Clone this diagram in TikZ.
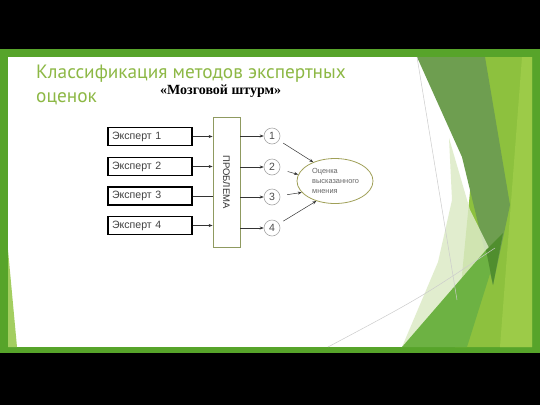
\documentclass[tikz,border=0pt]{standalone}
\usepackage{fontspec}
\setmainfont{Liberation Sans}
\newfontfamily\titlefont{PT Sans}
\newfontfamily\serifru{Liberation Serif}
\usetikzlibrary{arrows.meta,shapes.geometric}
\definecolor{framegreen}{HTML}{57A42A}
\definecolor{yelgreen}{HTML}{8DC13E}
\definecolor{yelgreenl}{HTML}{9CCB48}
\definecolor{mutedgreen}{HTML}{6E9E50}
\definecolor{midgreen}{HTML}{6DB243}
\definecolor{palegreen}{HTML}{DCEBC6}
\definecolor{deepgreen}{HTML}{508E2E}
\definecolor{slivergreen}{HTML}{A3CE60}
\definecolor{titlegreen}{HTML}{8DB845}
\definecolor{olivebord}{HTML}{8F9A60}
\definecolor{ellbord}{HTML}{A0A058}
\begin{document}
\begin{tikzpicture}[x=1pt,y=-1pt,
  expbox/.style={draw=black,line width=1.4pt,minimum width=84pt,minimum height=18pt,inner sep=0pt,
    font=\fontsize{10.6}{12}\selectfont,text=black!75,align=left,text width=76pt},
  numc/.style={circle,draw=gray!70,line width=0.6pt,minimum size=16pt,inner sep=0pt,
    font=\fontsize{10.5}{12}\selectfont,text=black!70},
  arr/.style={-{Stealth[length=4pt,width=3pt]},line width=0.5pt,draw=black!80},
  ln/.style={line width=0.5pt,draw=black!80},
  thinline/.style={draw=black!20,line width=0.5pt},
  titletext/.style={anchor=base west,inner sep=0pt,text=titlegreen,font=\titlefont\fontsize{19.3}{22}\selectfont},
]
\useasboundingbox (0,0) rectangle (540,405);
% background frame
\fill[black] (0,0) rectangle (540,405);
\fill[framegreen] (0,49) rectangle (540,353);
\fill[white] (8,57) rectangle (532,347);
% right decorations
\fill[yelgreen] (483,57) -- (532,57) -- (532,347) -- (455,347) -- cycle;
\fill[yelgreenl] (522,57) -- (532,57) -- (532,347) -- (500,347) -- cycle;
\fill[mutedgreen] (417,57) -- (485,57) -- (510,205) -- (493,285) -- (462,157) -- cycle;
\fill[palegreen,fill opacity=0.85] (449,138) -- (470,210) -- (490,250) -- (402,347) -- (438,262) -- (452,200) -- cycle;
\fill[midgreen] (402,347) -- (467,347) -- (500,242) -- (486,250) -- cycle;
\fill[deepgreen] (486,250) -- (503,233) -- (493,285) -- cycle;
\fill[slivergreen] (8,250) -- (17,347) -- (8,347) -- cycle;
\draw[thinline] (417,57) -- (457,300);
\draw[thinline] (328,347) .. controls (420,298) .. (495,248);
% titles
\node[titletext] (t1) at (36,78) {Классификация методов экспертных};
\node[titletext] (t2) at (36,102) {оценок};
\node[anchor=base west,inner sep=0pt,font=\serifru\bfseries\fontsize{14}{16}\selectfont] (t3) at (160,94) {«Мозговой штурм»};
% experts
\node[expbox] (e1) at (150,136.5) {Эксперт 1};
\node[expbox] (e2) at (150,166.5) {Эксперт 2};
\node[expbox] (e3) at (150,196) {Эксперт 3};
\node[expbox] (e4) at (150,225.5) {Эксперт 4};
% problem box
\node[draw=olivebord,line width=0.8pt,minimum width=27pt,minimum height=130pt,inner sep=0pt] (prob) at (226.5,182) {};
\node[rotate=-90,inner sep=0pt,font=\fontsize{9.5}{11}\selectfont,text=black!80] (probtxt) at (prob.center) {ПРОБЛЕМА};
% circles
\node[numc] (c1) at (272,136) {1};
\node[numc] (c2) at (272,167) {2};
\node[numc] (c3) at (272,197) {3};
\node[numc] (c4) at (272,228) {4};
% estimate ellipse
\node[ellipse,draw=ellbord,line width=0.8pt,minimum width=76pt,minimum height=45pt,inner sep=0pt] (est) at (335,181) {};
\node[anchor=west,align=left,inner sep=0pt,font=\fontsize{7.4}{10}\selectfont,text=black!60] (esttxt) at (312,181) {Оценка\\высказанного\\мнения};
% connectors experts -> problem
\draw[arr] (e1.east) -- (e1.east -| prob.west);
\draw[arr] (e2.east) -- (e2.east -| prob.west);
\draw[ln] (e3.east) -- (e3.east -| prob.west);
\draw[arr] (e4.east) -- (e4.east -| prob.west);
% problem -> circles
\draw[arr] (prob.east |- c1) -- (c1.west);
\draw[arr] (prob.east |- c2) -- (c2.west);
\draw[arr] (prob.east |- c3) -- (c3.west);
\draw[arr] (prob.east |- c4) -- (c4.west);
% circles -> estimate
\draw[arr,shorten <=5pt] (c1) -- (est.139);
\draw[arr,shorten <=8pt] (c2) -- (est.170);
\draw[arr,shorten <=7pt] (c3) -- (est.199);
\draw[arr,shorten <=5pt] (c4) -- (est.227);
\end{tikzpicture}
\end{document}
